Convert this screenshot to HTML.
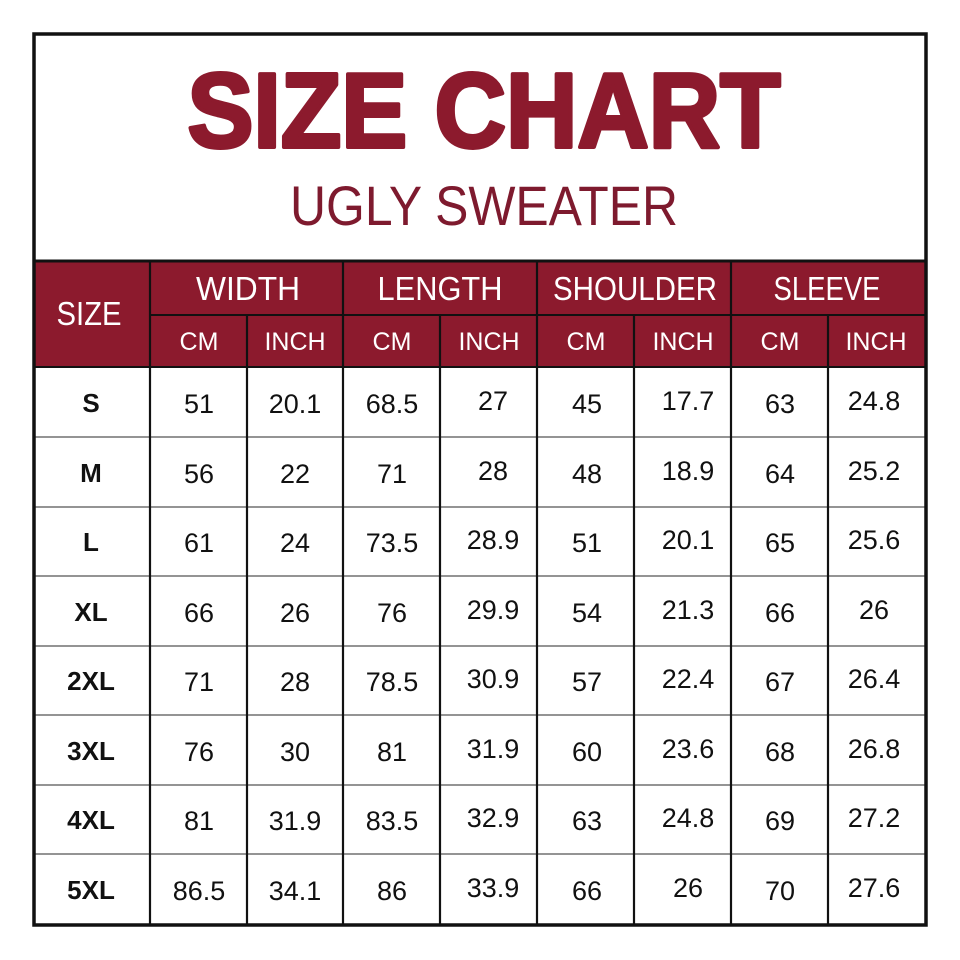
<!DOCTYPE html>
<html><head><meta charset="utf-8"><style>
html,body{margin:0;padding:0;background:#fff;width:960px;height:960px;overflow:hidden}
svg{display:block}
text{font-family:"Liberation Sans",sans-serif}
</style></head><body>
<svg width="960" height="960" viewBox="0 0 960 960" xmlns="http://www.w3.org/2000/svg">
<rect x="0" y="0" width="960" height="960" fill="#fff"/>
<text x="484" y="147" text-anchor="middle" font-size="106" font-weight="bold" fill="#8c1a2d" stroke="#8c1a2d" stroke-width="4" stroke-linejoin="round" textLength="593" lengthAdjust="spacingAndGlyphs">SIZE CHART</text>
<text x="484" y="225" text-anchor="middle" font-size="56" fill="#7e1a2e" textLength="388" lengthAdjust="spacingAndGlyphs">UGLY SWEATER</text>
<rect x="34" y="261" width="892" height="106" fill="#8c1a2d"/>
<g stroke="#111" stroke-width="2">
<line x1="34" y1="261" x2="926" y2="261" stroke-width="3"/>
<line x1="150" y1="315" x2="926" y2="315"/>
<line x1="34" y1="367" x2="926" y2="367"/>
</g>
<g fill="#fff" text-anchor="middle" font-size="33">
<text x="89" y="325" textLength="65" lengthAdjust="spacingAndGlyphs">SIZE</text>
<text x="248" y="300" textLength="104" lengthAdjust="spacingAndGlyphs">WIDTH</text>
<text x="440" y="300" textLength="125" lengthAdjust="spacingAndGlyphs">LENGTH</text>
<text x="635" y="300" textLength="164" lengthAdjust="spacingAndGlyphs">SHOULDER</text>
<text x="827" y="300" textLength="107" lengthAdjust="spacingAndGlyphs">SLEEVE</text>
</g>
<g fill="#fff" text-anchor="middle" font-size="25">
<text x="199" y="350">CM</text><text x="295" y="350">INCH</text>
<text x="392" y="350">CM</text><text x="489" y="350">INCH</text>
<text x="586" y="350">CM</text><text x="683" y="350">INCH</text>
<text x="780" y="350">CM</text><text x="876" y="350">INCH</text>
</g>
<g stroke="#555" stroke-width="1.2">
<line x1="34" y1="437" x2="926" y2="437"/>
<line x1="34" y1="507" x2="926" y2="507"/>
<line x1="34" y1="576" x2="926" y2="576"/>
<line x1="34" y1="646" x2="926" y2="646"/>
<line x1="34" y1="715" x2="926" y2="715"/>
<line x1="34" y1="785" x2="926" y2="785"/>
<line x1="34" y1="854" x2="926" y2="854"/>
</g>
<g stroke="#111" stroke-width="2.2">
<line x1="150" y1="261" x2="150" y2="925"/>
<line x1="247" y1="315" x2="247" y2="925"/>
<line x1="343" y1="261" x2="343" y2="925"/>
<line x1="440" y1="315" x2="440" y2="925"/>
<line x1="537" y1="261" x2="537" y2="925"/>
<line x1="634" y1="315" x2="634" y2="925"/>
<line x1="731" y1="261" x2="731" y2="925"/>
<line x1="828" y1="315" x2="828" y2="925"/>
</g>
<rect x="34" y="34" width="892" height="891" fill="none" stroke="#111" stroke-width="3.5"/>
<g font-size="27" text-anchor="middle" fill="#111">
<g font-weight="bold" font-size="26">
<text x="91" y="412">S</text><text x="91" y="482">M</text><text x="91" y="551">L</text><text x="91" y="621">XL</text>
<text x="91" y="690">2XL</text><text x="91" y="760">3XL</text><text x="91" y="829">4XL</text><text x="91" y="899">5XL</text>
</g>
<text x="199" y="413">51</text><text x="295" y="413">20.1</text><text x="392" y="413">68.5</text><text x="493" y="410">27</text><text x="587" y="413">45</text><text x="688" y="410">17.7</text><text x="780" y="413">63</text><text x="874" y="410">24.8</text>
<text x="199" y="483">56</text><text x="295" y="483">22</text><text x="392" y="483">71</text><text x="493" y="480">28</text><text x="587" y="483">48</text><text x="688" y="480">18.9</text><text x="780" y="483">64</text><text x="874" y="480">25.2</text>
<text x="199" y="552">61</text><text x="295" y="552">24</text><text x="392" y="552">73.5</text><text x="493" y="549">28.9</text><text x="587" y="552">51</text><text x="688" y="549">20.1</text><text x="780" y="552">65</text><text x="874" y="549">25.6</text>
<text x="199" y="622">66</text><text x="295" y="622">26</text><text x="392" y="622">76</text><text x="493" y="619">29.9</text><text x="587" y="622">54</text><text x="688" y="619">21.3</text><text x="780" y="622">66</text><text x="874" y="619">26</text>
<text x="199" y="691">71</text><text x="295" y="691">28</text><text x="392" y="691">78.5</text><text x="493" y="688">30.9</text><text x="587" y="691">57</text><text x="688" y="688">22.4</text><text x="780" y="691">67</text><text x="874" y="688">26.4</text>
<text x="199" y="761">76</text><text x="295" y="761">30</text><text x="392" y="761">81</text><text x="493" y="758">31.9</text><text x="587" y="761">60</text><text x="688" y="758">23.6</text><text x="780" y="761">68</text><text x="874" y="758">26.8</text>
<text x="199" y="830">81</text><text x="295" y="830">31.9</text><text x="392" y="830">83.5</text><text x="493" y="827">32.9</text><text x="587" y="830">63</text><text x="688" y="827">24.8</text><text x="780" y="830">69</text><text x="874" y="827">27.2</text>
<text x="199" y="900">86.5</text><text x="295" y="900">34.1</text><text x="392" y="900">86</text><text x="493" y="897">33.9</text><text x="587" y="900">66</text><text x="688" y="897">26</text><text x="780" y="900">70</text><text x="874" y="897">27.6</text>
</g>
</svg>
</body></html>
